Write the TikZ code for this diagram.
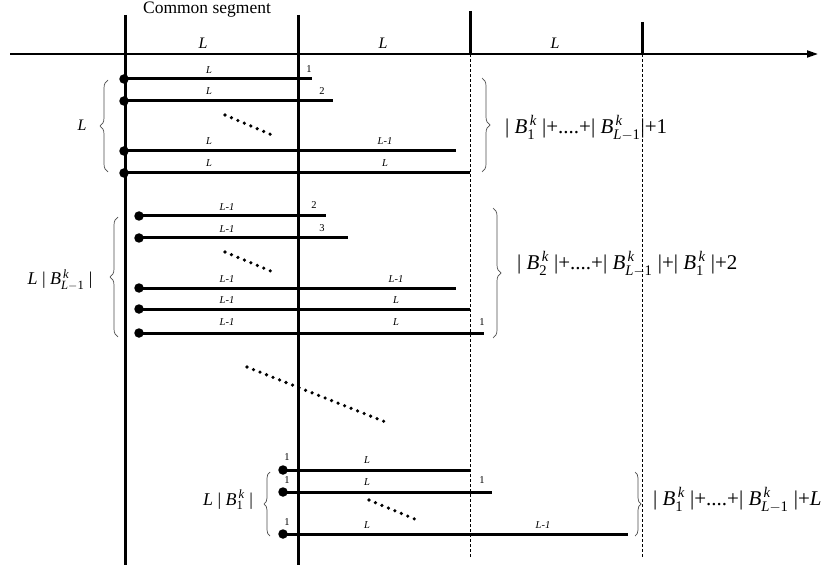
\documentclass[tikz,border=0pt]{standalone}
\usepackage{amsmath}
\usepackage{fontspec}
\setmainfont{Liberation Serif}
\usetikzlibrary{arrows.meta,decorations.pathreplacing}
\newcommand{\Bk}[1]{\textit{B}$^{\,\textit{k}}_{#1}$}
\begin{document}
\begin{tikzpicture}[x=1pt,y=-1pt,
 seg/.style={line width=3pt},
 vline/.style={line width=3pt},
 dashv/.style={line width=0.8pt, dash pattern=on 3pt off 2pt},
 dotc/.style={circle,fill=black,inner sep=0pt,minimum size=9.5pt},
 sm/.style={font=\fontsize{10.5}{12}\selectfont\itshape, inner sep=0pt},
 smn/.style={font=\fontsize{10.5}{12}\selectfont, inner sep=0pt},
 big/.style={font=\fontsize{18}{21}\selectfont, inner sep=0pt},
 bigr/.style={font=\fontsize{21}{24}\selectfont, inner sep=0pt, anchor=west},
 axl/.style={font=\fontsize{16}{18}\selectfont\itshape, inner sep=0pt},
 brc/.style={decorate, decoration={brace,amplitude=#1}, line width=0.7pt, draw=black!70},
 dotline/.style={line width=3.6pt, dash pattern=on 0pt off 7pt, line cap=round}
]
\useasboundingbox (0,0) rectangle (829,569);

% axis
\draw[line width=2pt, -{Triangle[length=11pt,width=7pt]}] (10,54) -- (818,54);
\draw[vline] (125,15) -- (125,565);
\draw[vline] (298,15) -- (298,565);
\draw[vline] (470,11) -- (470,54);
\draw[vline] (642,22) -- (642,54);
\draw[dashv] (470,54) -- (470,558);
\draw[dashv] (642,54) -- (642,558);
\node[font=\fontsize{17.5}{20}\selectfont, inner sep=0pt, anchor=base] (cs) at (207,14) {Common segment};
\node[axl] (a1) at (203,43) {L};
\node[axl] (a2) at (383,43) {L};
\node[axl] (a3) at (555,43) {L};

% group 1
\foreach \y/\e in {79/312,101/333,151/456,173/470}{
  \node[dotc] (d1\y) at (124,\y) {};
  \coordinate (e1\y) at (\e,\y);
  \draw[seg] (d1\y.center) -- (e1\y);
}
\foreach \y in {70,91,141,163}{ \node[sm] at (209,\y) {L}; }
\node[smn] at (309,69) {1};
\node[smn] at (322,91) {2};
\node[sm] at (385,141) {L-1};
\node[sm] at (385,163) {L};
\draw[dotline] (225,115) -- (272,135);
\draw[brc=8pt] (108,172) -- (108,80);
\node[axl] (g1l) at (82,125) {L};
\draw[brc=8pt] (482,78) -- (482,172);
\node[bigr] (g1r) at (505,128) {|\ \Bk{\textup{1}}\ |+....+|\ \Bk{\textit{L}-\textup{1}}|+1};

% group 2
\foreach \y/\e in {216/326,238/348,288/456,309/470,333/484}{
  \node[dotc] (d2\y) at (139,\y) {};
  \coordinate (e2\y) at (\e,\y);
  \draw[seg] (d2\y.center) -- (e2\y);
}
\foreach \y in {207,229,279,300,322}{ \node[sm] at (227,\y) {L-1}; }
\node[smn] at (314,205) {2};
\node[smn] at (322,228) {3};
\node[sm] at (396,279) {L-1};
\node[sm] at (396,300) {L};
\node[sm] at (396,322) {L};
\node[smn] at (482,322) {1};
\draw[dotline] (225,252) -- (273,272);
\draw[brc=8pt] (118,337) -- (118,217);
\node[big] (g2l) at (60,280) {\textit{L}\ |\ \Bk{\textit{L}-\textup{1}}\ |};
\draw[brc=8pt] (493,208) -- (493,338);
\node[bigr] (g2r) at (517,264) {|\ \Bk{\textup{2}}\ |+....+|\ \Bk{\textit{L}-\textup{1}}\ |+|\ \Bk{\textup{1}}\ |+2};

% middle dots
\draw[dotline] (247,367) -- (388,423);

% group 3
\foreach \y/\e in {470/470,492/492,534/628}{
  \node[dotc] (d3\y) at (283,\y) {};
  \coordinate (e3\y) at (\e,\y);
  \draw[seg] (d3\y.center) -- (e3\y);
}
\foreach \y in {457,480,522}{ \node[smn] at (287,\y) {1}; }
\foreach \y in {460,482,525}{ \node[sm] at (367,\y) {L}; }
\node[smn] at (482,480) {1};
\node[sm] at (543,525) {L-1};
\draw[dotline] (369,500) -- (417,520);
\draw[brc=6pt] (270,536) -- (270,472);
\node[big] (g3l) at (228,500) {\textit{L}\ |\ \Bk{\textup{1}}\ |};
\draw[brc=6pt] (635,472) -- (635,536);
\node[bigr] (g3r) at (653,500) {|\ \Bk{\textup{1}}\ |+....+|\ \Bk{\textit{L}-\textup{1}}\ |+\textit{L}};
\end{tikzpicture}
\end{document}
